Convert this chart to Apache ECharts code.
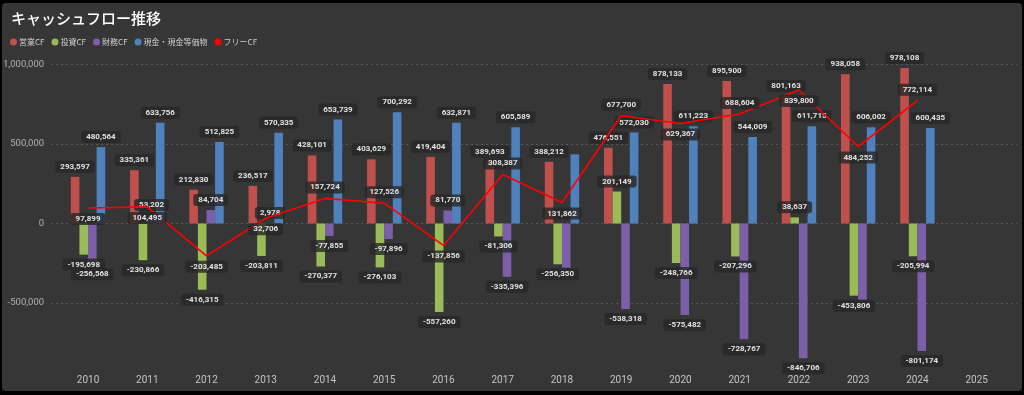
<!DOCTYPE html>
<html><head><meta charset="utf-8">
<script src="https://cdn.jsdelivr.net/npm/echarts@6/dist/echarts.min.js"></script>
<style>html,body{margin:0;padding:0;background:#000;}#c{width:1024px;height:395px;}</style>
</head><body><div id="c"></div>
<script>
const years = ['2010','2011','2012','2013','2014','2015','2016','2017','2018','2019','2020','2021','2022','2023','2024','2025'];
const operatingCF = [293597,335361,212830,236517,428101,403629,419404,389693,388212,476551,878133,895900,801163,938058,978108,null];
const investingCF = [-195698,-230866,-416315,-203811,-270377,-276103,-557260,-81306,-256350,201149,-248766,-207296,38637,-453806,-205994,null];
const financingCF = [-256568,53202,84704,2978,-77855,-97896,81770,-335396,-278000,-538318,-575482,-728767,-846706,-480000,-801174,null];
const cashEq = [480564,633756,512825,570335,653739,700292,632871,605589,435000,572030,611223,544009,611715,606002,600435,null];
const freeCF = [97899,104495,-203485,32706,157724,127526,-137856,308387,131862,677700,629367,688604,839800,484252,772114,null];
const yTicks = [-500000,0,500000,1000000];

// label display tweaks (style, not data)
const freeLabelAbove = ['2014','2015','2017','2019','2021','2024'];
const hiddenLabels = {fin:['2018','2023'], cash:['2018']};

const fmt = v => (v==null?'':Number(v).toLocaleString('en-US'));
const labelBox = {
  show:true, fontSize:8, fontWeight:'bold', color:'#e2e2e2',
  fontFamily:'Roboto, sans-serif',
  backgroundColor:'rgba(40,40,40,0.82)', padding:[2,5], borderRadius:3
};
function barData(arr, key){
  const hid = hiddenLabels[key]||[];
  return arr.map((v,i)=>{
    if(v==null) return null;
    return {value:v, label:Object.assign({}, labelBox, {
      show: hid.indexOf(years[i])<0,
      position: v>=0?'top':'bottom', distance:4, formatter: p=>fmt(p.value)})};
  });
}
const freeData = freeCF.map((v,i)=>{
  if(v==null) return null;
  return {value:v, label:Object.assign({}, labelBox, {
    position: freeLabelAbove.indexOf(years[i])>=0?'top':'bottom', distance:5, formatter:p=>fmt(p.value)})};
});

const colors = {op:'#c0504d', inv:'#9bbb59', fin:'#7b5fa8', cash:'#4f81bd', free:'#ff0000'};
const yCommon = {type:'value', min:-1000000, max:1000000, interval:500000};
const chart = echarts.init(document.getElementById('c'));
const barW = 8.6;
function barSeries(name, arr, key, color){
  return {name, type:'bar', xAxisIndex:1, yAxisIndex:1, barWidth:barW, barGap:'0%',
    itemStyle:{color}, data:barData(arr,key), z:2};
}
chart.setOption({
  backgroundColor:'#000',
  animation:false,
  graphic:[{type:'rect', shape:{x:2,y:3,width:1020,height:388,r:4}, style:{fill:'#363636'}, z:-100, silent:true}],
  title:{text:'キャッシュフロー推移', left:6, top:6, textStyle:{color:'#ffffff', fontSize:15, fontWeight:'500', fontFamily:"'Noto Sans CJK JP', sans-serif"}},
  legend:{left:5, top:33, itemWidth:7, itemHeight:7, itemGap:7, icon:'circle',
    textStyle:{color:'#cfcfcf', fontSize:8, fontFamily:"'Noto Sans CJK JP', sans-serif", padding:[0,0,0,-3]},
    data:[{name:'営業CF',itemStyle:{color:colors.op}},{name:'投資CF',itemStyle:{color:colors.inv}},{name:'財務CF',itemStyle:{color:colors.fin}},{name:'現金・現金等価物',itemStyle:{color:colors.cash}},{name:'フリーCF',itemStyle:{color:colors.free}}]},
  grid:[
    {left:47, right:7, top:64.5, bottom:12.5},
    {left:58.4, right:17.7, top:64.5, bottom:12.5}
  ],
  xAxis:[
    {type:'category', gridIndex:0, data:[''], show:false},
    {type:'category', gridIndex:1, data:years, offset:-15,
      axisLine:{show:false}, axisTick:{show:false},
      axisLabel:{color:'#c4c4c4', fontSize:10, margin:8, fontFamily:'Roboto, sans-serif'}}
  ],
  yAxis:[
    Object.assign({gridIndex:0,
      axisLine:{show:false}, axisTick:{show:false},
      axisLabel:{color:'#b0b0b0', fontSize:9.5, margin:7, fontFamily:'Roboto, sans-serif',
        formatter:v=> yTicks.indexOf(v)>=0 ? fmt(v) : ''},
      splitLine:{show:true, showMinLine:false, lineStyle:{color:'#5a5a5a', type:[2,3], width:1}}}, yCommon),
    Object.assign({gridIndex:1, show:false, splitLine:{show:false}}, yCommon)
  ],
  series:[
    barSeries('営業CF', operatingCF, 'op', colors.op),
    barSeries('投資CF', investingCF, 'inv', colors.inv),
    barSeries('財務CF', financingCF, 'fin', colors.fin),
    barSeries('現金・現金等価物', cashEq, 'cash', colors.cash),
    {name:'フリーCF', type:'line', xAxisIndex:1, yAxisIndex:1, data:freeData,
      showSymbol:true, symbol:'circle', symbolSize:0.01, lineStyle:{color:colors.free, width:1.6}, itemStyle:{color:colors.free}, z:5,
      label:{show:true}, labelLayout:{hideOverlap:false}}
  ]
});
</script></body></html>
